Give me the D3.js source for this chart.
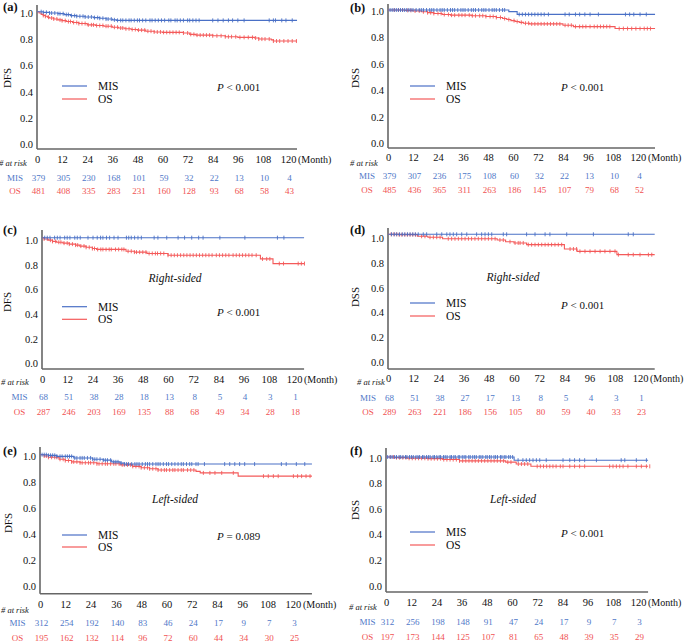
<!DOCTYPE html>
<html><head><meta charset="utf-8">
<script src="https://cdn.jsdelivr.net/npm/d3@7"></script>
<style>
body{margin:0;background:#fff}
text{font-family:"Liberation Serif","Times New Roman",serif}
</style>
</head><body>
<svg id="chart" width="685" height="643"></svg>
<script>
// ---------- shared ticks ----------
const monthTicks = [0,12,24,36,48,60,72,84,96,108,120];
const survTicks = [0,0.2,0.4,0.6,0.8,1.0];
const panelIds = ["(a)","(b)","(c)","(d)","(e)","(f)"];
const yLabels = ["DFS","DSS","DFS","DSS","DFS","DSS"];
const subtitles = ["","","Right-sided","Right-sided","Left-sided","Left-sided"];
const pTexts = [" < 0.001"," < 0.001"," < 0.001"," < 0.001"," = 0.089"," < 0.001"];
const groupNames = ["MIS","OS"];

// ---------- numbers at risk ----------
const riskMisA = [379,305,230,168,101,59,32,22,13,10,4];
const riskOsA  = [481,408,335,283,231,160,128,93,68,58,43];
const riskMisB = [379,307,236,175,108,60,32,22,13,10,4];
const riskOsB  = [485,436,365,311,263,186,145,107,79,68,52];
const riskMisC = [68,51,38,28,18,13,8,5,4,3,1];
const riskOsC  = [287,246,203,169,135,88,68,49,34,28,18];
const riskMisD = [68,51,38,27,17,13,8,5,4,3,1];
const riskOsD  = [289,263,221,186,156,105,80,59,40,33,23];
const riskMisE = [312,254,192,140,83,46,24,17,9,7,3];
const riskOsE  = [195,162,132,114,96,72,60,44,34,30,25];
const riskMisF = [312,256,198,148,91,47,24,17,9,7,3];
const riskOsF  = [197,173,144,125,107,81,65,48,39,35,29];

// ---------- KM steps [month, survival] ----------
const misA = [[0,1],[3,0.995],[6,0.99],[10,0.985],[13,0.978],[16,0.97],[19,0.965],[23,0.96],[27,0.955],[30,0.95],[33,0.944],[36,0.938],[38,0.934]];
const osA  = [[0,1],[1,0.99],[2,0.98],[3,0.972],[4,0.965],[5,0.958],[6,0.952],[8,0.945],[10,0.938],[12,0.932],[14,0.925],[17,0.918],[20,0.91],[24,0.9],[28,0.895],[32,0.89],[36,0.882],[39,0.876],[42,0.87],[45,0.865],[48,0.86],[52,0.852],[56,0.846],[60,0.843],[70,0.838],[73,0.828],[76,0.822],[84,0.817],[90,0.81],[96,0.805],[104,0.8],[106,0.792],[112,0.786],[113,0.777]];
const misB = [[0,1],[58,0.988],[62,0.967]];
const osB  = [[0,1],[8,0.997],[12,0.993],[16,0.987],[19,0.98],[22,0.974],[26,0.966],[30,0.961],[40,0.957],[47,0.951],[52,0.944],[55,0.936],[57,0.928],[59,0.92],[61,0.913],[63,0.907],[65,0.9],[68,0.895],[84,0.885],[89,0.875],[109,0.86]];
const misC = [[0,1]];
const osC  = [[0,1],[1,0.99],[3,0.98],[5,0.97],[7,0.963],[10,0.956],[13,0.948],[16,0.94],[18,0.932],[21,0.922],[24,0.912],[26,0.905],[40,0.89],[44,0.883],[50,0.872],[60,0.858],[104,0.828],[110,0.79]];
const misD = [[0,1]];
const osD  = [[0,1],[5,0.997],[14,0.984],[19,0.976],[26,0.964],[52,0.954],[56,0.94],[60,0.93],[66,0.916],[84,0.881],[90,0.862],[109,0.835]];
const misE = [[0,1],[4,0.995],[8,0.987],[16,0.975],[25,0.965],[30,0.958],[34,0.945],[38,0.935],[40,0.928]];
const osE  = [[0,1],[2,0.99],[4,0.98],[9,0.965],[12,0.955],[15,0.945],[19,0.938],[27,0.93],[38,0.922],[44,0.91],[48,0.9],[52,0.892],[56,0.882],[74,0.872],[76,0.86],[94,0.835]];
const misF = [[0,1],[61,0.975]];
const osF  = [[0,1],[4,0.995],[10,0.99],[20,0.987],[27,0.98],[35,0.97],[57,0.96],[62,0.945],[69,0.927]];

// ---------- censor times (months) ----------
const misCensA = [2,3,4.5,6,7,8.5,10,11,12.5,14,15,16.5,18,19,20.5,22,23,24.5,26,27.5,29,30,31.5,33,34,35.5,37,38.5,40,41,42.5,44,45,46.5,48,49,50.5,52,54,55,56.5,58,59.5,61,63,64,66,67,68.5,70,72,73,74.5,76,77.5,84,86.5,89,91.5,93.5,96,99,111,113,114,117,119,122];
const osCensA = [3,4,5.5,7,8,9.5,11,12,13.5,15,16,17.5,19,20,21.5,23,24.5,26,27,28.5,30,31.5,33,34,35.5,37,38.5,40,41,42.5,44,45.5,47,48.5,50,51.5,53,54.5,56,57.5,59,60.5,62,63.5,65,66.5,68,70,72,73.5,75,76.5,78,79.5,81,82.5,84,86,88,90,91.5,93,95,97,99,101,103,104.5,106,107.5,109,111,113,114.5,116,118,120,122,124];
const misCensB = [1,2,3,4,5,6,7,8,9,10,11,12,13.5,15,16,17,18.5,20,21,22,23.5,25,26,27,28.5,30,31,32,33.5,35,36,37,38.5,40,41,42,43.5,45,46,47,48.5,50,51,52,53.5,55,56,63,64.5,66,67.5,69,70.5,72,73.5,75,77,85,87,90,92,94.5,97,101,114,116,118,121,124];
const osCensB = [3,5,7,9.5,11,13,15,17,19,20.5,22,24,25.5,27,29,30.5,32,34,35.5,37,39,40.5,42,44,45.5,47,49,50.5,52,54,56,58,60.5,62,64,66,67.5,69,70.5,72,73.5,75,76.5,78,79.5,81,82.5,85,86.5,88,90,92,93.5,95,97,99,100.5,102,103.5,105,106.5,111,113,115,117,119,121,123,124.5,126];
const misCensC = [1.3,2.5,3.8,6,7.3,8.6,10.8,12,13.3,15.6,16.8,18.2,21.9,24.3,26.3,27.9,29,30.7,32.2,34.3,36.2,40.2,41.3,42.5,44.1,45.7,47.3,53.4,55.2,59.4,64.8,67.9,71.3,74.6,76.7,84.7,96.6,112.1,115.2];
const osCensC = [1,2.5,4,5,6.5,8,9,10.5,12,13,14.5,16,17,18.5,20,21,22.5,24,25,26.5,28,29,30.5,32,33,35,36.5,38,39,41,42.5,44,45,46.5,48,49.5,51,52.5,54,55,56.5,58,60,61.5,63,64.5,66,67.5,69,70.5,72,73.5,75,76.5,78,79.5,81,83,84.5,86,87.5,89,91,92.5,94,95.5,97,98.5,100,102,105,107,108.5,113,115,122,123.5,125];
const misCensD = [1.7,3,4.2,5.5,6.8,8,9.3,10.5,11.8,13,14.4,16.8,18.4,23.2,25.6,28,29.5,31.1,32.7,35.1,37.5,42.2,44.6,46.2,47.8,49.4,54.9,56.5,66,70,74.8,77.1,85.1,97.8,114.4,116.8];
const osCensD = [1.5,2.8,4,5.3,6.6,8,9.2,10.5,11.8,13.1,16,17.6,20,21.6,23.2,24.8,28.7,30.3,31.9,33.5,35.1,36.7,38.3,39.8,41.4,43,44.6,46.2,47.8,49.4,51,53.3,54.9,58.1,60.5,62,62.9,64.4,66.8,68.4,70,71.6,73.2,74.8,76.3,77.9,79.5,81.1,82.7,86.7,88.3,89.8,91.4,93.8,96.2,98.6,101,103.3,105.7,108.1,109.7,114.4,116.8,120,124,125.6];
const misCensE = [1,2,3,4,5,6,7,8,9.5,10.5,12,13,14,15,16.5,17.5,19,20,21,22.5,24,25,26,27,28.5,30,31,32,33.5,35,36,37,38.5,40,41,42,43.5,45,46,47,48.5,50,51,52,53.5,55,56,57,58.5,60,61,62.5,64,65.5,67,68,69.5,71,72,74,75,78,87.6,90,92.4,94.7,97.1,101.8,114.5,116.8,121.6,125.6];
const osCensE = [2,3,4,5.5,7,8,9.5,11,12,13.5,15,16,17.5,19,20,21.5,23,24,25.5,27,28,29.5,31,32,33.5,35,36,37.5,39,40,41.5,43,44,45.5,47,48,49.5,51,52,53.5,55,56,57.5,59,60,61.5,63,64,65.5,67,68,70,71.5,73,77.5,80.6,83,86.2,91.7,106,108.3,110.7,113,120.2,122.2,124.1,126.2,128.1];
const misCensF = [0.8,2,2.9,4.1,5,6.2,7,8.1,9.3,10,11.2,12.1,13,14.3,15.2,16,17.4,18.1,19.3,20.2,21,22.4,23.1,24.2,25.3,26,27.4,28.2,29.1,30.5,31.2,32.3,33,34.4,35.1,36.3,37.2,38,39.4,40.1,41.3,42.2,43,44.4,45.2,46.1,47.5,48.2,49.3,50.1,51.4,52.2,53.1,54.5,55.2,56.3,57.1,58.4,59.2,60.3,62.9,65.2,66.8,68.4,70,71.6,73.2,76.3,84.3,87.5,89.8,92.2,94.6,100.2,112,113.7,119.2,124];
const osCensF = [2,3.5,5,6.5,8,9.5,11,12.5,14,15.5,17,18.5,20,21.5,23,24.5,26,27.5,29,30.5,32,33.5,35,36.5,38,39.5,41,42.5,44,45.5,47,48.5,50,51.5,53,54.5,56,58,59.5,63,64.5,66,67.5,72,73.5,75,76.5,78,79.5,81,83,84.3,87.5,89.8,92.2,94.6,106.5,108.1,109.7,111.3,112.9,115.2,119.2,121.6,124,125.6];

// ---------- style ----------
const BLUE = "#4a70c6", RED = "#f45a5a";
const BLUE_T = "#5078c8", RED_T = "#f05252";
const FONT = '"Liberation Serif","Times New Roman",serif';

// ---------- layout per panel (pixel geometry) ----------
const layouts = [
 {ax:37, pxm:2.092, xMax:124.3, y1:11.7, y0:143.3, axY:149, top:5, lo:1, tickY:159, arX:-1, arY:163, rowX:15, misY:178, osY:191, legX:62, legY1:86, legY2:99, pX:217, pY:87, subX:175, subY:0, labX:3, labY:7, ylX:7.5, ylY:78},
 {ax:388, pxm:2.083, xMax:128.2, y1:10, y0:142.6, axY:148, top:4, lo:0.7, tickY:157, arX:350, arY:163, rowX:367, misY:176, osY:190, legX:410, legY1:86, legY2:99, pX:561, pY:87, subX:0, subY:0, labX:350, labY:8, ylX:355, ylY:78},
 {ax:42, pxm:2.1, xMax:124.8, y1:237.7, y0:361, axY:369, top:230, lo:2.3, tickY:379, arX:1, arY:382, rowX:19.5, misY:397, osY:412, legX:62, legY1:306.7, legY2:319.3, pX:217, pY:311.7, subX:175, subY:278, labX:3, labY:230, ylX:7.5, ylY:302},
 {ax:388, pxm:2.1, xMax:127, y1:234.3, y0:357.7, axY:369, top:228, lo:4, tickY:378, arX:357, arY:382, rowX:368, misY:398, osY:412, legX:410, legY1:303, legY2:316, pX:561, pY:305, subX:513, subY:277, labX:350, labY:230, ylX:355, ylY:297},
 {ax:40, pxm:2.108, xMax:129, y1:454.7, y0:584.7, axY:593.7, top:447, lo:1.6, tickY:604, arX:1, arY:610, rowX:17.5, misY:623, osY:638, legX:62, legY1:535, legY2:547, pX:217, pY:536, subX:175, subY:499, labX:3, labY:451, ylX:8.3, ylY:523},
 {ax:386, pxm:2.1, xMax:124.8, y1:457, y0:584.7, axY:592, top:448, lo:1, tickY:602, arX:349, arY:607, rowX:367.5, misY:622, osY:637, legX:410, legY1:532, legY2:545, pX:561, pY:533, subX:513, subY:499, labX:350, labY:451, ylX:355, ylY:510}
];

const series = [
 {mis:misA, os:osA, mc:misCensA, oc:osCensA, rm:riskMisA, ro:riskOsA},
 {mis:misB, os:osB, mc:misCensB, oc:osCensB, rm:riskMisB, ro:riskOsB},
 {mis:misC, os:osC, mc:misCensC, oc:osCensC, rm:riskMisC, ro:riskOsC},
 {mis:misD, os:osD, mc:misCensD, oc:osCensD, rm:riskMisD, ro:riskOsD},
 {mis:misE, os:osE, mc:misCensE, oc:osCensE, rm:riskMisE, ro:riskOsE},
 {mis:misF, os:osF, mc:misCensF, oc:osCensF, rm:riskMisF, ro:riskOsF}
];

const svg = d3.select("#chart");
svg.append("rect").attr("width",685).attr("height",643).attr("fill","#fff");

function survAt(steps, t){
  let s = steps[0][1];
  for (const [tt, v] of steps){ if (tt <= t) s = v; else break; }
  return s;
}

series.forEach((sd, i) => {
  const L = layouts[i];
  const g = svg.append("g");
  const x = d3.scaleLinear().domain([0, L.xMax]).range([L.ax, L.ax + L.pxm * L.xMax]);
  const y = d3.scaleLinear().domain([0, 1]).range([L.y0, L.y1]);

  // axis lines
  g.append("line").attr("x1",L.ax).attr("x2",L.ax).attr("y1",L.top).attr("y2",L.axY)
    .attr("stroke","#666").attr("stroke-width",1.6);
  g.append("line").attr("x1",L.ax).attr("x2",x(L.xMax)).attr("y1",L.axY).attr("y2",L.axY)
    .attr("stroke","#666").attr("stroke-width",1.4);

  // y tick labels
  const ya = g.append("g").attr("transform",`translate(${L.ax-4},${L.lo})`)
    .call(d3.axisLeft(y).tickValues(survTicks).tickSize(0).tickPadding(0).tickFormat(d3.format(".1f")));
  ya.select(".domain").remove();
  ya.selectAll("text").attr("font-family",FONT).attr("font-size",10.5).attr("fill","#111");

  // x tick labels
  const xa = g.append("g").attr("transform",`translate(0,${L.tickY})`)
    .call(d3.axisBottom(x).tickValues(monthTicks).tickSize(0).tickPadding(0));
  xa.select(".domain").remove();
  xa.selectAll("text").attr("y",0).attr("dy","0.35em").attr("font-family",FONT).attr("font-size",10.5).attr("fill","#111");
  g.append("text").attr("x",x(120)+10).attr("y",L.tickY).attr("dy","0.35em")
    .attr("font-size",10).attr("fill","#111").text("(Month)");

  // curves
  const line = d3.line().x(d=>x(d[0])).y(d=>y(d[1])).curve(d3.curveStepAfter);
  [[sd.os, sd.oc, RED],[sd.mis, sd.mc, BLUE]].forEach(([steps, cens, col]) => {
    const pts = steps.concat([[L.xMax, steps[steps.length-1][1]]]);
    g.append("path").datum(pts).attr("d",line).attr("fill","none")
      .attr("stroke",col).attr("stroke-width",1.1);
    g.append("g").selectAll("line").data(cens).join("line")
      .attr("x1",d=>x(d)).attr("x2",d=>x(d))
      .attr("y1",d=>y(survAt(steps,d))-2).attr("y2",d=>y(survAt(steps,d))+2)
      .attr("stroke",col).attr("stroke-width",0.9);
  });

  // legend
  [[L.legY1, BLUE, groupNames[0]],[L.legY2, RED, groupNames[1]]].forEach(([ly,col,name]) => {
    g.append("line").attr("x1",L.legX).attr("x2",L.legX+25).attr("y1",ly).attr("y2",ly)
      .attr("stroke",col).attr("stroke-width",1.2);
    g.append("text").attr("x",L.legX+36).attr("y",ly).attr("dy","0.35em")
      .attr("font-size",11.5).attr("fill","#111").text(name);
  });

  // p value
  const pt = g.append("text").attr("x",L.pX).attr("y",L.pY).attr("dy","0.35em")
    .attr("font-size",11).attr("fill","#111");
  pt.append("tspan").attr("font-style","italic").text("P");
  pt.append("tspan").text(pTexts[i]);

  // subtitle
  if (subtitles[i]) {
    g.append("text").attr("x",L.subX).attr("y",L.subY).attr("dy","0.35em")
      .attr("text-anchor","middle").attr("font-style","italic").attr("font-size",11.5)
      .attr("fill","#111").text(subtitles[i]);
  }

  // panel id
  g.append("text").attr("x",L.labX).attr("y",L.labY).attr("dy","0.35em")
    .attr("font-weight","bold").attr("font-size",12.5).attr("fill","#111").text(panelIds[i]);

  // y label
  g.append("text").attr("transform",`translate(${L.ylX},${L.ylY}) rotate(-90)`)
    .attr("dy","0.35em").attr("text-anchor","middle").attr("font-size",11)
    .attr("fill","#111").text(yLabels[i]);

  // at risk table
  g.append("text").attr("x",L.arX).attr("y",L.arY).attr("dy","0.35em")
    .attr("font-style","italic").attr("font-size",8.5).attr("fill","#222").text("# at risk");
  g.append("text").attr("x",L.rowX).attr("y",L.misY).attr("dy","0.35em").attr("text-anchor","middle")
    .attr("font-size",9).attr("fill",BLUE_T).text(groupNames[0]);
  g.append("text").attr("x",L.rowX).attr("y",L.osY).attr("dy","0.35em").attr("text-anchor","middle")
    .attr("font-size",9).attr("fill",RED_T).text(groupNames[1]);
  g.append("g").selectAll("text").data(monthTicks).join("text")
    .attr("x",(d)=>x(d)+1.5).attr("y",L.misY).attr("dy","0.35em").attr("text-anchor","middle")
    .attr("font-size",9).attr("fill",BLUE_T).text((d,k)=>sd.rm[k]);
  g.append("g").selectAll("text").data(monthTicks).join("text")
    .attr("x",(d)=>x(d)+1.5).attr("y",L.osY).attr("dy","0.35em").attr("text-anchor","middle")
    .attr("font-size",9).attr("fill",RED_T).text((d,k)=>sd.ro[k]);
});
</script>
</body></html>
